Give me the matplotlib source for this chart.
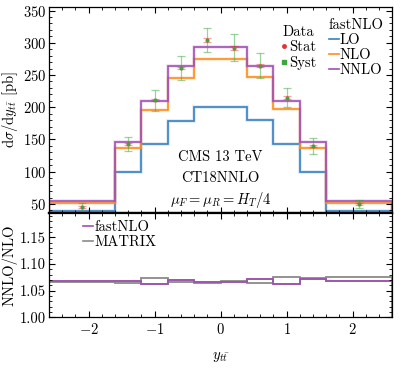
import numpy as np
import matplotlib
matplotlib.use("Agg")
import matplotlib.pyplot as plt
from matplotlib.ticker import MultipleLocator, FormatStrFormatter
from matplotlib.lines import Line2D

plt.rcParams['font.family'] = 'serif'
plt.rcParams['font.serif'] = ['cmr10']
plt.rcParams['mathtext.fontset'] = 'cm'
plt.rcParams['axes.formatter.use_mathtext'] = True
plt.rcParams['axes.unicode_minus'] = True

# ---- data ----
edges = [-2.6, -1.6, -1.2, -0.8, -0.4, 0.0, 0.4, 0.8, 1.2, 1.6, 2.6]
lo = [39, 100, 143, 179, 200, 200, 180, 143, 100, 39]
nlo = [51, 136.5, 196.5, 246, 275.5, 275.5, 247, 197, 137.5, 51]
nnlo = [54.5, 146, 209, 264, 294, 294, 264, 209, 146, 54.5]
data_x = [-2.1, -1.4, -1.0, -0.6, -0.2, 0.2, 0.6, 1.0, 1.4, 2.1]
data_y = [45, 142.5, 211, 261, 304, 292, 264.5, 215, 140, 50]
stat_err = [1.5, 1.5, 2.0, 2.0, 3.0, 3.0, 2.5, 2.0, 1.5, 1.5]
syst_err = [7, 11, 16.5, 19, 19, 21, 19, 15, 12, 6]
ratio_fastnlo = [1.068, 1.069, 1.062, 1.070, 1.066, 1.067, 1.071, 1.062, 1.071, 1.068]
matrix_lo = [1.067, 1.065, 1.062, 1.066, 1.064, 1.066, 1.064, 1.062, 1.071, 1.068]
matrix_hi = [1.069, 1.069, 1.073, 1.070, 1.066, 1.069, 1.071, 1.076, 1.074, 1.075]

c_lo = '#3a80c0'
c_nlo = '#ff8c1a'
c_nnlo = '#a050b4'
c_stat = '#e83030'
c_syst = '#3aa83a'
c_matrix = '#8a8a8a'

FS = 10.5
W, H = 407, 369
fig = plt.figure(figsize=(W / 100, H / 100), dpi=100)
left = 49 / W
width = (392.3 - 49) / W
ax1 = fig.add_axes([left, 1 - 213.3 / H, width, (213.3 - 6.7) / H])
ax2 = fig.add_axes([left, 1 - 317.3 / H, width, (317.3 - 213.3) / H], sharex=ax1)

for c, v in [(c_lo, lo), (c_nlo, nlo), (c_nnlo, nnlo)]:
    ax1.stairs(v, edges, color=c, lw=2.6, alpha=0.18)
    ax1.stairs(v, edges, color=c, lw=1.2)

ax1.errorbar(data_x, data_y, yerr=syst_err, fmt='s', ms=2.0, color=c_syst,
             ecolor=c_syst, elinewidth=0.9, capsize=3, capthick=0.9, alpha=0.5, zorder=5)
ax1.errorbar(data_x, data_y, yerr=stat_err, fmt='o', ms=2.0, color=c_stat,
             ecolor=c_stat, elinewidth=0.9, capsize=3, capthick=0.9, alpha=0.45, zorder=6)
ax1.plot(data_x, data_y, 's', ms=1.8, color=c_syst, zorder=7)

ax1.set_xlim(-2.6, 2.6)
ax1.set_ylim(35.5, 356)
ax1.set_ylabel(r'$\mathrm{d}\sigma/\mathrm{d}y_{t\bar{t}}$ [pb]', fontsize=FS, labelpad=2)
ax1.yaxis.set_major_locator(MultipleLocator(50))
ax1.yaxis.set_minor_locator(MultipleLocator(10))
ax1.xaxis.set_major_locator(MultipleLocator(1))
ax1.xaxis.set_minor_locator(MultipleLocator(0.2))
plt.setp(ax1.get_xticklabels(), visible=False)

ax1.text(0.5, 0.272, 'CMS 13 TeV', ha='center', va='center', fontsize=FS, transform=ax1.transAxes)
ax1.text(0.5, 0.171, 'CT18NNLO', ha='center', va='center', fontsize=FS, transform=ax1.transAxes)
ax1.text(0.5, 0.064, r'$\mu_F = \mu_R = H_T/4$', ha='center', va='center', fontsize=FS,
         transform=ax1.transAxes)

# legends
h_stat = Line2D([], [], marker='o', ls='none', ms=2.5, color=c_stat)
h_syst = Line2D([], [], marker='s', ls='none', ms=2.5, color=c_syst)
leg1 = ax1.legend([h_stat, h_syst], ['Stat', 'Syst'], title='Data', loc='upper left',
                  bbox_to_anchor=(0.675, 0.91), frameon=False, fontsize=FS, title_fontsize=FS,
                  handlelength=0.4, handletextpad=0.2, borderpad=0, labelspacing=0.1,
                  borderaxespad=0)
ax1.add_artist(leg1)
h_lo = Line2D([], [], color=c_lo, lw=1.2)
h_nlo = Line2D([], [], color=c_nlo, lw=1.2)
h_nnlo = Line2D([], [], color=c_nnlo, lw=1.2)
leg2 = ax1.legend([h_lo, h_nlo, h_nnlo], ['LO', 'NLO', 'NNLO'], title='fastNLO', loc='upper left',
                  bbox_to_anchor=(0.813, 0.945), frameon=False, fontsize=FS, title_fontsize=FS,
                  handlelength=0.7, handletextpad=0.05, borderpad=0, labelspacing=0.1,
                  borderaxespad=0)

# ratio panel
centers = [(a + b) / 2 for a, b in zip(edges[:-1], edges[1:])]
widths = [b - a for a, b in zip(edges[:-1], edges[1:])]
ax2.bar(centers, np.subtract(matrix_hi, matrix_lo), width=widths, bottom=matrix_lo,
        fill=False, edgecolor=c_matrix, lw=1.3)
ax2.stairs(ratio_fastnlo, edges, color=c_nnlo, lw=1.2)
ax2.set_ylim(1.0, 1.195)
ax2.set_ylabel('NNLO/NLO', fontsize=FS, labelpad=2)
ax2.set_xlabel(r'$y_{t\bar{t}}$', fontsize=FS, labelpad=9)
ax2.yaxis.set_major_locator(MultipleLocator(0.05))
ax2.yaxis.set_minor_locator(MultipleLocator(0.01))
ax2.yaxis.set_major_formatter(FormatStrFormatter('%.2f'))
h_f = Line2D([], [], color=c_nnlo, lw=1.2)
h_m = Line2D([], [], color=c_matrix, lw=1.2)
ax2.legend([h_f, h_m], ['fastNLO', 'MATRIX'], loc='upper left', bbox_to_anchor=(0.098, 0.935),
           frameon=False, fontsize=FS, handlelength=0.7, handletextpad=0.1, borderpad=0,
           labelspacing=0.1, borderaxespad=0)

for ax in (ax1, ax2):
    ax.tick_params(which='both', direction='in', top=True, right=True, labelsize=FS)
    ax.tick_params(axis='y', which='major', pad=2)
    ax.tick_params(which='major', length=4, width=0.8)
    ax.tick_params(which='minor', length=2, width=0.6)
    for s in ax.spines.values():
        s.set_linewidth(0.9)
ax1.spines['bottom'].set_linewidth(1.6)
ax2.spines['top'].set_linewidth(1.6)

fig.align_ylabels([ax1, ax2])
fig.savefig('out.png', dpi=100)
